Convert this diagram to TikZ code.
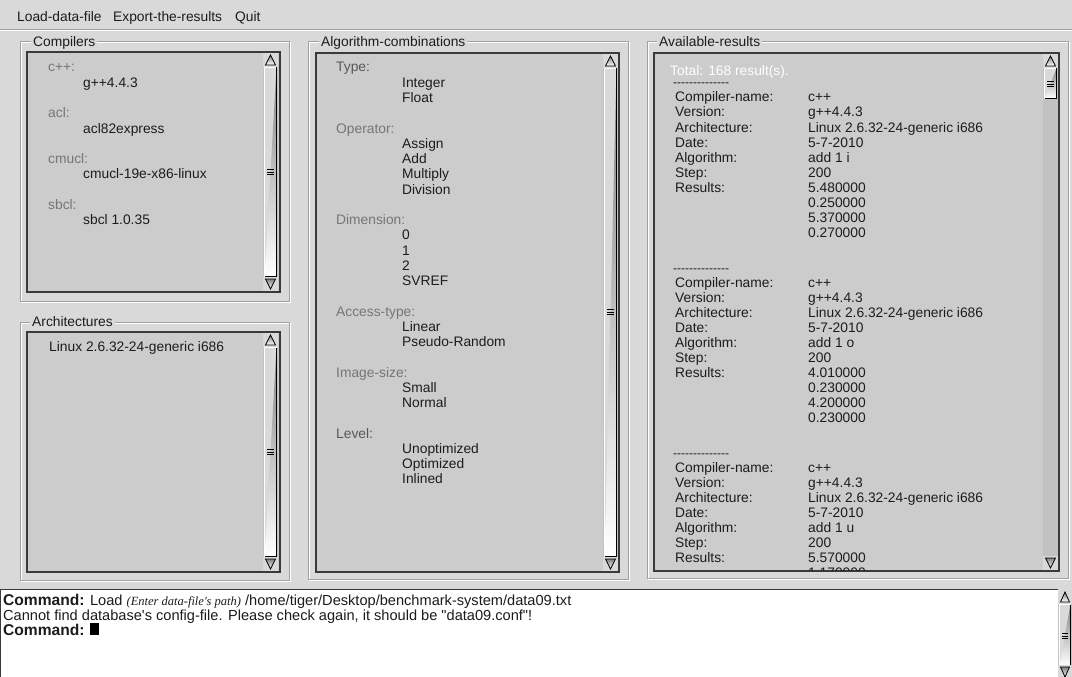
\documentclass[tikz,border=0pt]{standalone}
\usepackage{fontspec}
\setmainfont{Liberation Sans}[Ligatures=TeXOff]
\newfontfamily\seriffam{Liberation Serif}

\definecolor{winbg}{HTML}{D9D9D9}
\definecolor{boxbg}{HTML}{CCCCCC}
\definecolor{trough}{HTML}{C2C2C2}
\definecolor{ink}{HTML}{1C1C1C}
\definecolor{hdr}{HTML}{767676}
\definecolor{hdrdark}{HTML}{585858}
\definecolor{edge}{HTML}{3A3A3A}
\definecolor{groove}{HTML}{A0A0A0}
\definecolor{shade}{HTML}{8E8E8E}

\tikzset{
  txt/.style={anchor=base west, inner sep=0pt, text=ink,
              font=\fontsize{13.8}{15}\selectfont},
  hdrtxt/.style={txt, text=hdr},
  cmdtxt/.style={txt, font=\fontsize{14.6}{15}\selectfont},
  dashtxt/.style={txt, font=\fontsize{12}{15}\selectfont, text height=4pt, text depth=0pt},
  frametitle/.style={txt, fill=winbg, inner xsep=2pt, inner ysep=1pt},
  sunken/.style={fill=boxbg, draw=edge, line width=1.2pt},
}

% a row of separate hyphens (boxed so that no dash ligature forms)
\newcommand\hyphenrow{\foreach \k in {1,...,14}{\hbox{-}}}
% bold prompt of the command line
\newcommand\prompt{{\bfseries\fontsize{15.6}{15}\selectfont Command:}}

% vertical scroll bar: x1, y1, x2, y2, slider top, slider bottom, grip centre
\newcommand\vscrollbar[7]{%
  \fill[trough] (#1,#2) rectangle (#3,#4);
  \fill[winbg] ({#1+1},#5) rectangle ({#3-1},#6);
  \draw[white, line width=1pt] ({#1+1.5},#6) -- ({#1+1.5},{#5+0.5}) -- ({#3-1.5},{#5+0.5});
  \draw[shade, line width=1pt] ({#1+1.5},{#6-0.5}) -- ({#3-1.5},{#6-0.5}) -- ({#3-1.5},{#5+0.5});
  \foreach \dy in {-2.5,0,2.5}
    \draw[shade, line width=0.7pt] ({#1+4},{#7+\dy}) -- ({#3-4},{#7+\dy});
  % up arrow button
  \fill[winbg] (#1,#2) rectangle (#3,{#2+14});
  \draw[shade, fill=white!70!winbg, line width=0.8pt]
    ({#1+2.5},{#2+12}) -- ({(#1+#3)/2},{#2+2}) -- ({#3-2.5},{#2+12}) -- cycle;
  % down arrow button
  \fill[winbg] (#1,{#4-14}) rectangle (#3,#4);
  \draw[shade, fill=white!70!winbg, line width=0.8pt]
    ({#1+2.5},{#4-12}) -- ({(#1+#3)/2},{#4-2}) -- ({#3-2.5},{#4-12}) -- cycle;
}

% etched frame: x1, y1, x2, y2
\newcommand\etchedframe[4]{%
  \draw[white, line width=1pt] ({#1+1},{#2+1}) rectangle ({#3+1},{#4+1});
  \draw[groove, line width=1pt] (#1,#2) rectangle (#3,#4);
}

\begin{document}
\begin{tikzpicture}[x=1pt, y=-1pt]
\useasboundingbox (0,0) rectangle (1072,677);
\fill[winbg] (0,0) rectangle (1072,677);

% ---- menu bar ----
\draw[groove, line width=1pt] (0,29.5) -- (1072,29.5);
\draw[white, line width=1pt] (0,30.5) -- (1072,30.5);
\node[txt] (mload) at (17,22) {Load-data-file};
\node[txt] (mexport) at (113,22) {Export-the-results};
\node[txt] (mquit) at (235,22) {Quit};

% ---- frames ----
\etchedframe{20}{42}{289}{301}
\etchedframe{20}{322}{289}{580}
\etchedframe{308}{42}{628}{579}
\etchedframe{647}{42}{1068}{578}

\node[frametitle] (tcomp) at (31,47) {Compilers};
\node[frametitle] (tarch) at (30,326) {Architectures};
\node[frametitle] (talg) at (319,47) {Algorithm-combinations};
\node[frametitle] (tres) at (657,47) {Available-results};

% ---- list boxes ----
\draw[sunken] (27,52) rectangle (280,292);
\draw[sunken] (27,332) rectangle (280,572);
\draw[sunken] (316,53) rectangle (619,572);
\draw[sunken] (654,53) rectangle (1059,571);

\vscrollbar{263}{53}{278}{291}{67}{277}{172}
\vscrollbar{263}{333}{278}{571}{347}{557}{452}
\vscrollbar{603}{54}{618}{571}{68}{557}{312}
\vscrollbar{1043}{54}{1058}{570}{68}{99}{84}

% ---- compilers ----
\foreach \ln/\t in {0/c++:,3/acl:,6/cmucl:,9/sbcl:}
  \node[hdrtxt] (ch\ln) at (48,{72+15.25*\ln}) {\t};
\foreach \ln/\t in {1/g++4.4.3,4/acl82express,7/cmucl-19e-x86-linux,10/sbcl 1.0.35}
  \node[txt] (cv\ln) at (83,{72+15.25*\ln}) {\t};

% ---- architectures ----
\node[txt] (arch1) at (49,351) {Linux 2.6.32-24-generic i686};

% ---- algorithm combinations ----
\foreach \ln/\t/\c in {0/Type:/hdrdark,4/Operator:/hdr,10/Dimension:/hdr,
                       16/Access-type:/hdr,20/Image-size:/hdr,24/Level:/hdrdark}
  \node[txt, text=\c] (ah\ln) at (336,{72+15.25*\ln}) {\t};
\foreach \ln/\t in {1/Integer,2/Float,5/Assign,6/Add,7/Multiply,8/Division,
                    11/0,12/1,13/2,14/SVREF,17/Linear,18/Pseudo-Random,
                    21/Small,22/Normal,25/Unoptimized,26/Optimized,27/Inlined}
  \node[txt] (av\ln) at (402,{72+15.25*\ln}) {\t};

% ---- available results ----
\begin{scope}
\clip (655,54) rectangle (1042,570);
\node[txt, text=white] (total) at (670,76) {Total: 168 result(s).};
\foreach \b/\alg in {0/i,1/o,2/u} {
  \node[dashtxt] (dash\b) at (673,{87+185*\b}) {\hyphenrow};
  \foreach \ln/\t in {0/Compiler-name:,1/Version:,2/Architecture:,3/Date:,
                      4/Algorithm:,5/Step:,6/Results:}
    \node[txt] (rl\b-\ln) at (675,{102+185*\b+15*\ln}) {\t};
  \foreach \ln/\t in {0/c++,1/g++4.4.3,2/Linux 2.6.32-24-generic i686,
                      3/5-7-2010,4/add 1 \alg,5/200}
    \node[txt] (rv\b-\ln) at (808,{102+185*\b+15*\ln}) {\t};
}
\foreach \ln/\t in {6/5.480000,7/0.250000,8/5.370000,9/0.270000}
  \node[txt] (rn0-\ln) at (808,{102+15*\ln}) {\t};
\foreach \ln/\t in {6/4.010000,7/0.230000,8/4.200000,9/0.230000}
  \node[txt] (rn1-\ln) at (808,{287+15*\ln}) {\t};
\foreach \ln/\t in {6/5.570000,7/1.170000}
  \node[txt] (rn2-\ln) at (808,{472+15*\ln}) {\t};
\end{scope}

% ---- command area ----
\fill[white] (0,590) rectangle (1058,677);
\draw[edge, line width=1pt] (0,589.5) -- (1058,589.5);
\draw[edge, line width=1pt] (0.5,589.5) -- (0.5,677);
\vscrollbar{1058}{590}{1072}{679}{604}{666}{636}

\node[cmdtxt] (cmd1) at (3,605) {\prompt{} Load
  {\seriffam\itshape\fontsize{12.5}{15}\selectfont (Enter data-file's path)}
  /home/tiger/Desktop/benchmark-system/data09.txt};
\node[cmdtxt] (cmd2) at (3,620) {Cannot find database's config-file. Please check again, it should be "data09.conf"!};
\node[cmdtxt] (cmd3) at (3,635) {\prompt};
\node[fill=black, inner sep=0pt, minimum width=9pt, minimum height=12pt,
      anchor=south west] (cursor) at ([xshift=5pt]cmd3.base east) {};
\end{tikzpicture}
\end{document}
